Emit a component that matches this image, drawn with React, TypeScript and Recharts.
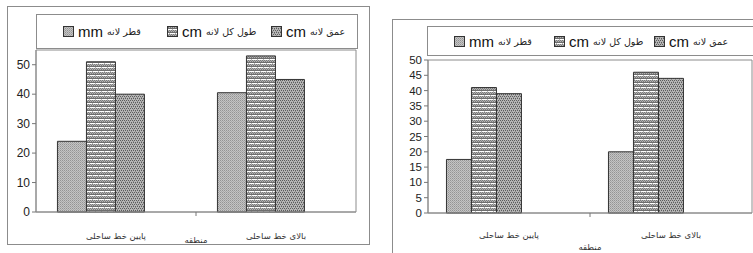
import React from 'react';
import { BarChart, Bar, XAxis, YAxis, ReferenceArea, Label } from 'recharts';

const categories = ['پایین خط ساحلی', 'بالای خط ساحلی'];
const seriesNames = ['قطر لانه', 'طول کل لانه', 'عمق لانه'];
const seriesUnits = ['mm', 'cm', 'cm'];
const axisTitle = 'منطقه';

const leftDiameter = [24, 40.5];
const leftLength = [51, 53];
const leftDepth = [40, 45];
const leftTicks = [0, 10, 20, 30, 40, 50];

const rightDiameter = [17.5, 20];
const rightLength = [41, 46];
const rightDepth = [39, 44];
const rightTicks = [0, 5, 10, 15, 20, 25, 30, 35, 40, 45, 50];

const leftData = categories.map((c, i) => ({ name: c, d: leftDiameter[i], l: leftLength[i], p: leftDepth[i] }));
const rightData = categories.map((c, i) => ({ name: c, d: rightDiameter[i], l: rightLength[i], p: rightDepth[i] }));

const Patterns = ({ pre }: { pre: string }) => (
  <defs>
    <pattern id={pre + 'p1'} patternUnits="userSpaceOnUse" width={2} height={2}>
      <rect width={2} height={2} fill="#c4c4c4" />
      <rect x={0} y={0} width={1} height={1} fill="#949494" />
      <rect x={1} y={1} width={1} height={1} fill="#a8a8a8" />
    </pattern>
    <pattern id={pre + 'p2'} patternUnits="userSpaceOnUse" width={6} height={8}>
      <rect width={6} height={8} fill="#b4b4b4" />
      <rect x={0} y={0} width={1} height={1} fill="#7a7a7a" />
      <rect x={2} y={0} width={1} height={1} fill="#7a7a7a" />
      <rect x={4} y={0} width={1} height={1} fill="#7a7a7a" />
      <rect x={1} y={1} width={1} height={1} fill="#7a7a7a" />
      <rect x={3} y={1} width={1} height={1} fill="#7a7a7a" />
      <rect x={5} y={1} width={1} height={1} fill="#7a7a7a" />
      <rect x={0} y={2} width={6} height={1} fill="#6e6e6e" />
      <rect x={0} y={3} width={5} height={1} fill="#ffffff" />
      <rect x={0} y={4} width={1} height={1} fill="#7a7a7a" />
      <rect x={2} y={4} width={1} height={1} fill="#7a7a7a" />
      <rect x={4} y={4} width={1} height={1} fill="#7a7a7a" />
      <rect x={1} y={5} width={1} height={1} fill="#7a7a7a" />
      <rect x={3} y={5} width={1} height={1} fill="#7a7a7a" />
      <rect x={5} y={5} width={1} height={1} fill="#7a7a7a" />
      <rect x={0} y={6} width={6} height={1} fill="#6e6e6e" />
      <rect x={3} y={7} width={3} height={1} fill="#ffffff" />
      <rect x={0} y={7} width={2} height={1} fill="#ffffff" />
    </pattern>
    <pattern id={pre + 'p3'} patternUnits="userSpaceOnUse" width={4} height={4}>
      <rect width={4} height={4} fill="#b6b6b6" />
      <rect x={0} y={0} width={1} height={1} fill="#5c5c5c" />
      <rect x={2} y={0} width={1} height={1} fill="#5c5c5c" />
      <rect x={1} y={2} width={1} height={1} fill="#5c5c5c" />
      <rect x={3} y={2} width={1} height={1} fill="#5c5c5c" />
      <rect x={1} y={1} width={1} height={1} fill="#8c8c8c" />
      <rect x={3} y={3} width={1} height={1} fill="#8c8c8c" />
    </pattern>
  </defs>
);

const makeTick = (tickSize: number, dyLabel: number) => (props: any) => {
  const { x, y, payload, index } = props;
  const axisY = y - tickSize - 2;
  const off = payload && typeof payload.offset === 'number' ? payload.offset : 0;
  return (
    <g>
      <text x={x} y={y + dyLabel} textAnchor="middle" fontSize={8.5} fontFamily="'DejaVu Sans', sans-serif" fill="#333">
        {payload.value}
      </text>
      {index === 0 && off > 0 ? (
        <line x1={x + off} x2={x + off} y1={axisY} y2={axisY + 4} stroke="#777" />
      ) : null}
    </g>
  );
};

const LegendBox = ({ style, pre, itemWidth }: { style: React.CSSProperties; pre: string; itemWidth: number }) => (
  <div
    style={{
      position: 'absolute',
      border: '1px solid #8c8c8c',
      background: '#fff',
      boxSizing: 'border-box',
      display: 'flex',
      alignItems: 'center',
      ...style,
    }}
  >
    {seriesNames.map((n, i) => (
      <div key={n} style={{ display: 'flex', alignItems: 'center', width: itemWidth, flex: 'none' }}>
        <svg width={11} height={11} style={{ marginRight: 4 }}>
          <Patterns pre={pre + 'lg' + i} />
          <rect x={0.5} y={0.5} width={10} height={10} fill={`url(#${pre}lg${i}p${i + 1})`} stroke="#333" />
        </svg>
        <span style={{ direction: 'rtl', whiteSpace: 'nowrap', display: 'inline-flex', alignItems: 'center' }}>
          <span style={{ fontFamily: "'DejaVu Sans', sans-serif", fontSize: 9.5, color: '#222' }}>{n}</span>
          <span style={{ fontFamily: "'Liberation Sans', Arial, sans-serif", fontSize: 15, color: '#111', marginRight: 4 }}>
            {seriesUnits[i]}
          </span>
        </span>
      </div>
    ))}
  </div>
);

const yTickL = { fontSize: 12, fill: '#222', fontFamily: "'Liberation Sans', Arial, sans-serif" };
const yTickR = { fontSize: 11.5, fill: '#222', fontFamily: "'Liberation Sans', Arial, sans-serif" };

export default function App() {
  return (
    <div style={{ position: 'absolute', left: 0, top: 0, width: 753, height: 253, background: '#fff', overflow: 'hidden' }}>
      {/* left chart frame */}
      <div style={{ position: 'absolute', left: 7, top: 6, width: 363, height: 239, border: '1px solid #8c8c8c', boxSizing: 'border-box' }} />
      <div style={{ position: 'absolute', left: 0, top: 0 }}>
        <BarChart width={380} height={253} data={leftData} margin={{ top: 50, right: 24, left: 6, bottom: 0 }} barCategoryGap="13.4%" barGap={0}>
          <Patterns pre="L" />
          <ReferenceArea y1={0} y2={55} fill="none" stroke="#8c8c8c" ifOverflow="visible" />
          <XAxis dataKey="name" height={41} tickLine={false} axisLine={{ stroke: '#8c8c8c' }} tick={makeTick(6, 19)} interval={0}>
            <Label value={axisTitle} position="insideBottom" offset={10} fontSize={8.5} fill="#333" fontFamily="'DejaVu Sans', sans-serif" />
          </XAxis>
          <YAxis width={30} domain={[0, 55]} ticks={leftTicks} interval={0} tickSize={4} tickLine={{ stroke: '#777' }} axisLine={{ stroke: '#8c8c8c' }} tick={yTickL} />
          <Bar dataKey="d" fill="url(#Lp1)" stroke="#333" isAnimationActive={false} />
          <Bar dataKey="l" fill="url(#Lp2)" stroke="#333" isAnimationActive={false} />
          <Bar dataKey="p" fill="url(#Lp3)" stroke="#333" isAnimationActive={false} />
          <Bar dataKey="pad1" fill="none" isAnimationActive={false} />
        </BarChart>
      </div>
      <LegendBox pre="LL" itemWidth={104} style={{ left: 36, top: 14, width: 322, height: 35, paddingLeft: 26 }} />

      {/* right chart frame */}
      <div style={{ position: 'absolute', left: 392, top: 19, width: 370, height: 250, border: '1px solid #8c8c8c', boxSizing: 'border-box' }} />
      <div style={{ position: 'absolute', left: 380, top: 0 }}>
        <BarChart width={373} height={253} data={rightData} margin={{ top: 60, right: 1, left: 18, bottom: 0 }} barCategoryGap="11.4%" barGap={0}>
          <Patterns pre="R" />
          <ReferenceArea y1={0} y2={50} fill="none" stroke="#8c8c8c" ifOverflow="visible" />
          <XAxis dataKey="name" height={40} tickLine={false} axisLine={{ stroke: '#8c8c8c' }} tick={makeTick(6, 17)} interval={0}>
            <Label value={axisTitle} position="insideBottom" offset={3} fontSize={8.5} fill="#333" fontFamily="'DejaVu Sans', sans-serif" />
          </XAxis>
          <YAxis width={30} domain={[0, 50]} ticks={rightTicks} interval={0} tickSize={4} tickLine={{ stroke: '#777' }} axisLine={{ stroke: '#8c8c8c' }} tick={yTickR} />
          <Bar dataKey="d" fill="url(#Rp1)" stroke="#333" isAnimationActive={false} />
          <Bar dataKey="l" fill="url(#Rp2)" stroke="#333" isAnimationActive={false} />
          <Bar dataKey="p" fill="url(#Rp3)" stroke="#333" isAnimationActive={false} />
          <Bar dataKey="pad1" fill="none" isAnimationActive={false} />
          <Bar dataKey="pad2" fill="none" isAnimationActive={false} />
        </BarChart>
      </div>
      <LegendBox pre="RL" itemWidth={100} style={{ left: 427, top: 26, width: 330, height: 30, paddingLeft: 26 }} />
    </div>
  );
}
